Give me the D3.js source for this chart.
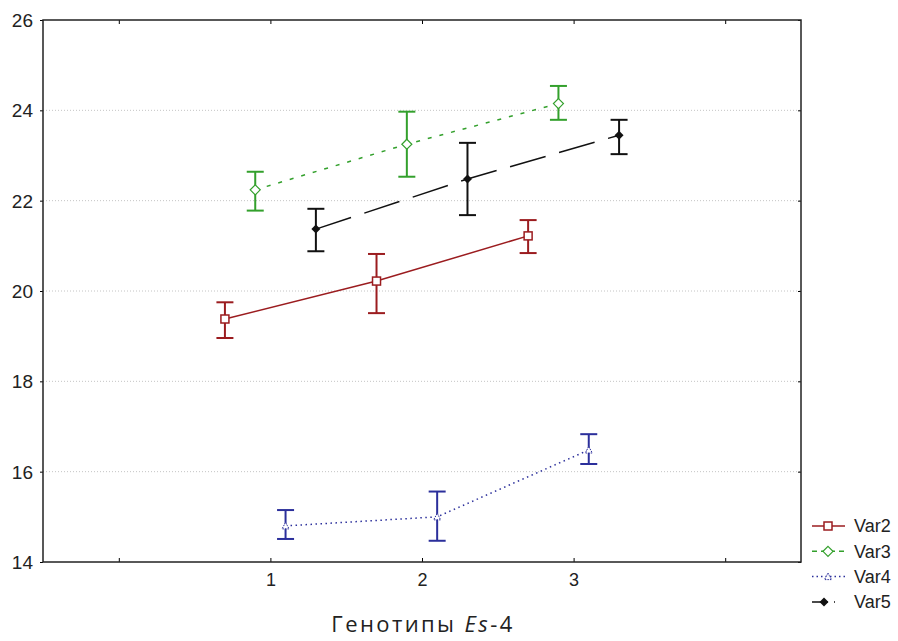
<!DOCTYPE html>
<html>
<head>
<meta charset="utf-8">
<script src="https://cdn.jsdelivr.net/npm/d3@7"></script>
<style>
  body { margin: 0; background: #fff; }
  text { font-family: "Liberation Sans", Arial, sans-serif; fill: #222; }
</style>
</head>
<body>
<div id="chart"></div>
<script>
// data
var seriesNames = ["Var2", "Var3", "Var4", "Var5"];
var xOffsets = [-0.3, -0.1, 0.1, 0.3];
var genotypes = [1, 2, 3];
var var2 = [19.38, 20.22, 21.22];
var var3 = [22.24, 23.25, 24.15];
var var4 = [14.80, 15.00, 16.48];
var var5 = [21.37, 22.48, 23.45];
var var2Lo = [18.96, 19.51, 20.84], var2Hi = [19.75, 20.82, 21.57];
var var3Lo = [21.78, 22.53, 23.79], var3Hi = [22.64, 23.97, 24.54];
var var4Lo = [14.51, 14.47, 16.17], var4Hi = [15.15, 15.56, 16.83];
var var5Lo = [20.88, 21.68, 23.03], var5Hi = [21.82, 23.28, 23.79];
var yTicks = [14, 16, 18, 20, 22, 24, 26];
var xTickLabels = [1, 2, 3];

var width = 898, height = 641;
var margin = {top: 20, right: 97, bottom: 79, left: 43};
var w = width - margin.left - margin.right,
    h = height - margin.top - margin.bottom;

var svg = d3.select("#chart").append("svg")
    .attr("width", width)
    .attr("height", height);
var g = svg.append("g")
    .attr("transform", "translate(" + margin.left + "," + margin.top + ")");

var x = d3.scaleLinear().domain([-0.5, 4.5]).range([0, w]);
var y = d3.scaleLinear().domain([14, 26]).range([h, 0]);

// grid
g.selectAll(".grid").data(yTicks.slice(1, -1)).enter().append("line")
    .attr("x1", 0).attr("x2", w)
    .attr("y1", d => y(d)).attr("y2", d => y(d))
    .attr("stroke", "#c4c4c4").attr("stroke-width", 1)
    .attr("stroke-dasharray", "1,2");

// axes
g.append("g").attr("transform", "translate(0," + h + ")")
  .call(d3.axisBottom(x).tickValues([0, 1, 2, 3, 4]).tickSize(-4)
    .tickFormat(d => xTickLabels.indexOf(d) >= 0 ? d : "").tickPadding(11))
  .call(a => a.select(".domain").remove())
  .call(a => a.selectAll("text").style("font-size", "18px"));
g.append("g")
  .call(d3.axisTop(x).tickValues([0, 1, 2, 3, 4]).tickSize(-4).tickFormat(""))
  .call(a => a.select(".domain").remove());
g.append("g")
  .call(d3.axisLeft(y).tickValues(yTicks).tickSize(3).tickPadding(7))
  .call(a => a.select(".domain").remove())
  .call(a => a.selectAll("text").style("font-size", "19px").attr("dy", "0.35em"));
g.append("g").attr("transform", "translate(" + w + ",0)")
  .call(d3.axisRight(y).tickValues(yTicks).tickSize(-3).tickFormat(""))
  .call(a => a.select(".domain").remove());
g.append("rect").attr("width", w).attr("height", h)
  .attr("fill", "none").attr("stroke", "#222").attr("stroke-width", 1.5);

var series = [
  {name: seriesNames[0], vals: var2, lo: var2Lo, hi: var2Hi, color: "#9b1c1f", dash: null, marker: "square"},
  {name: seriesNames[1], vals: var3, lo: var3Lo, hi: var3Hi, color: "#33a02c", dash: "4,8", marker: "diamond"},
  {name: seriesNames[2], vals: var4, lo: var4Lo, hi: var4Hi, color: "#2b2f9b", dash: "1.5,3.5", marker: "triangle"},
  {name: seriesNames[3], vals: var5, lo: var5Lo, hi: var5Hi, color: "#111", dash: "37,14", marker: "fdiamond"}
];

var line = d3.line().x(d => x(d.x)).y(d => y(d.v));

function drawMarker(sel, m, color) {
  if (m === "square") {
    sel.append("rect").attr("x", -4).attr("y", -4).attr("width", 8).attr("height", 8)
      .attr("fill", "#fff").attr("stroke", color).attr("stroke-width", 1.5);
  } else if (m === "diamond") {
    sel.append("path").attr("d", "M0,-5L5,0L0,5L-5,0Z")
      .attr("fill", "#fff").attr("stroke", color).attr("stroke-width", 1.2);
  } else if (m === "triangle") {
    sel.append("path").attr("d", "M0,-3.5L3.5,3L-3.5,3Z")
      .attr("fill", "#fff").attr("stroke", color).attr("stroke-width", 1).attr("stroke-dasharray", "1.5,1");
  } else {
    sel.append("path").attr("d", "M0,-4.5L4.5,0L0,4.5L-4.5,0Z").attr("fill", color);
  }
}

series.forEach((s, i) => {
  var pts = genotypes.map((gx, j) => ({x: gx + xOffsets[i], v: s.vals[j], lo: s.lo[j], hi: s.hi[j]}));
  g.append("path").datum(pts).attr("d", line)
    .attr("fill", "none").attr("stroke", s.color).attr("stroke-width", 1.5)
    .attr("stroke-dasharray", s.dash);
  var eb = g.append("g").selectAll("g").data(pts).enter().append("g")
    .attr("stroke", s.color).attr("stroke-width", 2);
  eb.append("line").attr("x1", d => x(d.x)).attr("x2", d => x(d.x))
    .attr("y1", d => y(d.lo)).attr("y2", d => y(d.hi));
  eb.append("line").attr("x1", d => x(d.x) - 8.5).attr("x2", d => x(d.x) + 8.5)
    .attr("y1", d => y(d.lo)).attr("y2", d => y(d.lo));
  eb.append("line").attr("x1", d => x(d.x) - 8.5).attr("x2", d => x(d.x) + 8.5)
    .attr("y1", d => y(d.hi)).attr("y2", d => y(d.hi));
  g.append("g").selectAll("g").data(pts).enter().append("g")
    .attr("transform", d => "translate(" + x(d.x) + "," + y(d.v) + ")")
    .each(function() { drawMarker(d3.select(this), s.marker, s.color); });
});

// legend
var legend = svg.append("g").attr("transform", "translate(812,526)");
series.forEach((s, i) => {
  var row = legend.append("g").attr("transform", "translate(0," + (i * 25.3) + ")");
  row.append("line").attr("x1", 0).attr("x2", 33).attr("y1", 0).attr("y2", 0)
    .attr("stroke", s.color).attr("stroke-width", 1.5)
    .attr("stroke-dasharray", i === 1 ? "5,4" : i === 2 ? "1.5,3" : i === 3 ? "16,6,1,10" : null);
  var mk = row.append("g").attr("transform", "translate(" + (i === 3 ? 12 : 16) + ",0)");
  drawMarker(mk, s.marker, s.color);
  row.append("text").attr("x", 42).attr("y", 0).attr("dy", "0.35em")
    .style("font-size", "18px").text(s.name);
});

// x-axis title
var title = svg.append("text").attr("x", 423).attr("y", 632)
  .attr("text-anchor", "middle")
  .style("font-family", "'Open Sans', 'DejaVu Sans', sans-serif")
  .style("font-size", "22px")
  .style("letter-spacing", "2.4px");
title.append("tspan").text("Генотипы ");
title.append("tspan").style("font-style", "italic").text("Es");
title.append("tspan").text("-4");
</script>
</body>
</html>
